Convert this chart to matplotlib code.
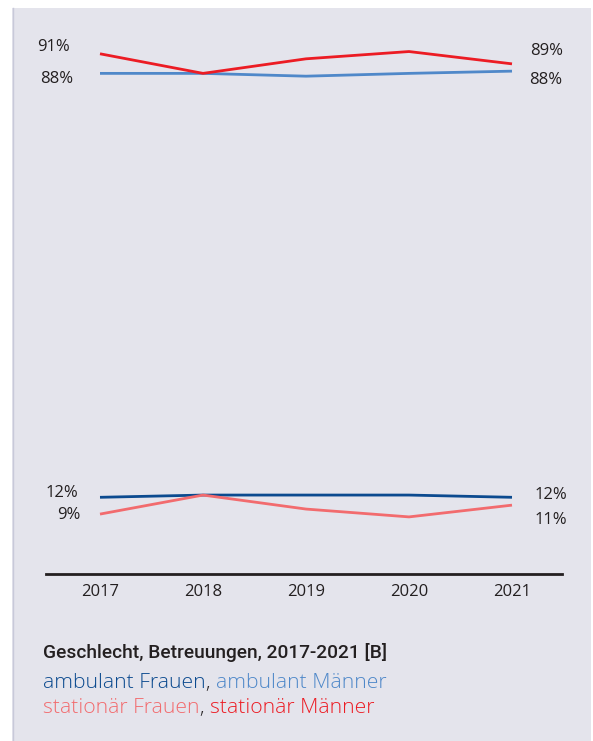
import matplotlib
matplotlib.use("Agg")
import matplotlib.pyplot as plt
from matplotlib.patches import Rectangle

# =====================================================
# Data (shares in %)
# =====================================================

years = [2017, 2018, 2019, 2020, 2021]

ambulant_frauen = [12.0, 12.4, 12.4, 12.4, 12.0]
ambulant_maenner = [87.7, 87.7, 87.2, 87.7, 88.1]
stationaer_frauen = [9.0, 12.4, 9.9, 8.5, 10.6]
stationaer_maenner = [91.2, 87.7, 90.3, 91.6, 89.4]

series_names = ["ambulant Frauen", "ambulant Männer", "stationär Frauen", "stationär Männer"]
series_values = [ambulant_frauen, ambulant_maenner, stationaer_frauen, stationaer_maenner]
series_colors = ["#0b4a8f", "#4f88c9", "#f26b6e", "#ec1c24"]

title = "Geschlecht, Betreuungen, 2017-2021 [B]"

# label offsets in pixels (dx, dy) for first / last point
left_offsets = [(-22, 4.6), (-27, -5.6), (-20, -0.7), (-30, 6.5)]
right_offsets = [(55, 2.3), (50, -8.7), (55, -14.9), (51, 13.2)]

W, H = 593, 741
BG = "#e4e4ec"
DARK = "#231f20"
FONT = ["Open Sans", "DejaVu Sans"]

fig = plt.figure(figsize=(W / 100, H / 100), dpi=100)
fig.patch.set_facecolor("white")

# grey panel
fig.patches.append(Rectangle((12 / W, 0), (591 - 12) / W, (H - 8) / H,
                             transform=fig.transFigure, facecolor=BG,
                             edgecolor="none", zorder=-10))
fig.lines.append(plt.Line2D([12.5 / W, 12.5 / W], [0, (H - 8) / H],
                            transform=fig.transFigure, color="#c8c9d9", lw=1,
                            zorder=-9))

# axes placed in pixel space
left, right = 46, 562
bottom, top = 574, 20
ax = fig.add_axes([left / W, 1 - bottom / H, (right - left) / W, (bottom - top) / H])
ax.set_facecolor("none")
ax.set_zorder(1)

px_per_year = 103
ax.set_xlim(2017 - (100 - left) / px_per_year, 2021 + (right - 512) / px_per_year)
px_per_pct = 5.6
zero_px = 564.5
ax.set_ylim((zero_px - bottom) / px_per_pct, (zero_px - top) / px_per_pct)

for vals, col in zip(series_values, series_colors):
    ax.plot(years, vals, color=col, lw=2, solid_capstyle="butt", zorder=3)

pt = 72 / 100  # points per pixel
for vals, lo, ro in zip(series_values, left_offsets, right_offsets):
    ax.annotate(f"{round(vals[0])}%", (years[0], vals[0]),
                xytext=(lo[0] * pt, lo[1] * pt), textcoords="offset points",
                ha="right", va="center", fontsize=12, color=DARK, family=FONT)
    ax.annotate(f"{round(vals[-1])}%", (years[-1], vals[-1]),
                xytext=(ro[0] * pt, ro[1] * pt), textcoords="offset points",
                ha="right", va="center", fontsize=12, color=DARK, family=FONT)

for s in ["top", "left", "right"]:
    ax.spines[s].set_visible(False)
ax.spines["bottom"].set_linewidth(2)
ax.spines["bottom"].set_color(DARK)
ax.set_yticks([])
ax.set_xticks(years)
ax.set_xticklabels([str(y) for y in years], fontsize=12, color=DARK, family=FONT)
ax.tick_params(axis="x", length=0, pad=7)

# =====================================================
# Title + coloured legend text
# =====================================================

fig.text(43 / W, 1 - 653 / H, title, fontsize=13.8, color=DARK, va="center",
         family=["Roboto", "DejaVu Sans"], fontweight="medium", zorder=2)


def legend_line(parts, y_px):
    prev = fig.text(43 / W, 1 - y_px / H, parts[0][0], color=parts[0][1],
                    fontsize=15.2, va="center", family=FONT, fontweight="light",
                    zorder=2)
    for txt, col in parts[1:]:
        prev = ax.annotate(txt, xy=(1, 0), xycoords=prev, va="bottom", ha="left",
                           color=col, fontsize=15.2, family=FONT,
                           fontweight="light", annotation_clip=False)


legend_line([(series_names[0], series_colors[0]), (", ", DARK),
             (series_names[1], series_colors[1])], 683)
legend_line([(series_names[2], series_colors[2]), (", ", DARK),
             (series_names[3], series_colors[3])], 708)

fig.savefig("out.png", dpi=100)
